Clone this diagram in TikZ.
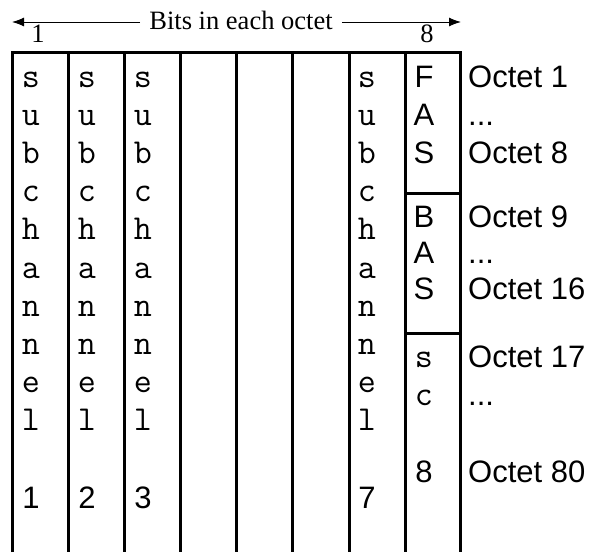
\documentclass[tikz,border=0pt]{standalone}
\usepackage{fontspec}
\setmainfont{Liberation Serif}
\newfontfamily\sansf{Liberation Sans}
\usetikzlibrary{arrows.meta}
\tikzset{
  grid/.style={line width=3pt, line join=miter},
  mono/.style={font=\ttfamily\fontsize{35}{40}\selectfont, inner sep=0pt},
  sans/.style={font=\sansf\fontsize{31}{36}\selectfont, inner sep=0pt},
  serif/.style={font=\fontsize{26.5}{31}\selectfont, inner sep=0pt},
  arr/.style={line width=1pt, -{Latex[length=12pt,width=9pt]}}
}
\begin{document}
\begin{tikzpicture}[x=1pt,y=-1pt]
\useasboundingbox (0,0) rectangle (593,552);
% grid
\draw[grid] (12,552) -- (12,52) -- (460,52) -- (460,552);
\foreach \x in {68,124,180,236,292,349,405} \draw[grid] (\x,52) -- (\x,552);
\draw[grid] (405,193) -- (460,193);
\draw[grid] (405,333) -- (460,333);
% header
\node[serif, anchor=base, inner xsep=9pt] (bits) at (241,29) {Bits in each octet};
\coordinate (ltip) at (12,22);
\coordinate (rtip) at (461,22);
\draw[arr] (bits.west |- ltip) -- (ltip);
\draw[arr] (bits.east |- rtip) -- (rtip);
\node[serif, anchor=base] (b1) at (38,42) {1};
\node[serif, anchor=base] (b8) at (427,42) {8};
% subchannel columns
\foreach \c/\x in {1/31,2/87,3/143,7/367} {
  \foreach \ch [count=\k from 0] in {s,u,b,c,h,a,n,n,e,l} {
    \node[mono, anchor=base] (c\c-\k) at (\x, 87+38.2*\k) {\ch};
  }
  \node[sans, anchor=base] (d\c) at (\x,508) {\c};
}
% column 8
\node[sans, anchor=base] (f1) at (424,87) {F};
\node[sans, anchor=base] (f2) at (424,125) {A};
\node[sans, anchor=base] (f3) at (424,163) {S};
\node[sans, anchor=base] (g1) at (424,227) {B};
\node[sans, anchor=base] (g2) at (424,263) {A};
\node[sans, anchor=base] (g3) at (424,299) {S};
\node[mono, anchor=base] (h1) at (424,367) {s};
\node[mono, anchor=base] (h2) at (424,405) {c};
\node[sans, anchor=base] (h3) at (424,482) {8};
% octet labels
\node[sans, anchor=base west] (o1) at (468,87) {Octet 1};
\node[sans, anchor=base west] (o2) at (468,125) {...};
\node[sans, anchor=base west] (o8) at (468,163) {Octet 8};
\node[sans, anchor=base west] (o9) at (468,227) {Octet 9};
\node[sans, anchor=base west] (o10) at (468,263) {...};
\node[sans, anchor=base west] (o16) at (468,299) {Octet 16};
\node[sans, anchor=base west] (o17) at (468,367) {Octet 17};
\node[sans, anchor=base west] (o18) at (468,405) {...};
\node[sans, anchor=base west] (o80) at (468,482) {Octet 80};
\end{tikzpicture}
\end{document}
